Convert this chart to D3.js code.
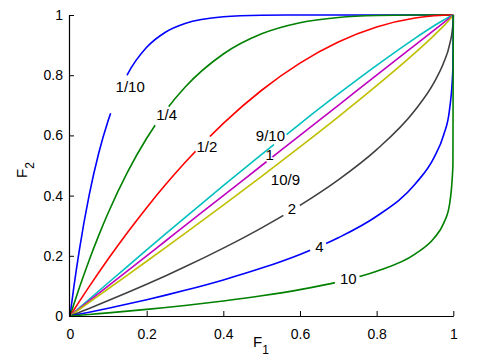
<!DOCTYPE html>
<html><head><meta charset="utf-8">
<script src="https://cdn.jsdelivr.net/npm/d3@7"></script>
<style>
body{margin:0;background:#fff}
svg{display:block}
text{font-family:"Liberation Sans",Arial,Helvetica,sans-serif;fill:#000}
</style>
</head><body>
<svg id="chart" width="500" height="360"></svg>
<script>
// ---- data ----
const F1 = [0, 0.01, 0.025, 0.05, 0.075, 0.1, 0.15, 0.2, 0.25, 0.3, 0.4, 0.5, 0.6, 0.7, 0.8, 0.9, 0.95, 0.975, 0.99, 0.999, 1];
const ratioLabels = ["1/10", "1/4", "1/2", "9/10", "1", "10/9", "2", "4", "10"];
const F2_1_10 = [0, 0.0956, 0.2237, 0.4013, 0.5414, 0.6513, 0.8031, 0.8926, 0.9437, 0.9718, 0.9940, 0.9990, 0.9999, 1, 1, 1, 1, 1, 1, 1, 1];
const F2_1_4  = [0, 0.0394, 0.0963, 0.1855, 0.2679, 0.3439, 0.4780, 0.5904, 0.6836, 0.7599, 0.8704, 0.9375, 0.9744, 0.9919, 0.9984, 0.9999, 1, 1, 1, 1, 1];
const F2_1_2  = [0, 0.0199, 0.0494, 0.0975, 0.1444, 0.19, 0.2775, 0.36, 0.4375, 0.51, 0.64, 0.75, 0.84, 0.91, 0.96, 0.99, 0.9975, 0.9994, 0.9999, 1, 1];
const F2_9_10 = [0, 0.0111, 0.0277, 0.0554, 0.0830, 0.1105, 0.1652, 0.2196, 0.2736, 0.3272, 0.4331, 0.5371, 0.6387, 0.7376, 0.8327, 0.9226, 0.9642, 0.9834, 0.9940, 0.9995, 1];
const F2_1    = [0, 0.01, 0.025, 0.05, 0.075, 0.1, 0.15, 0.2, 0.25, 0.3, 0.4, 0.5, 0.6, 0.7, 0.8, 0.9, 0.95, 0.975, 0.99, 0.999, 1];
const F2_10_9 = [0, 0.0090, 0.0225, 0.0451, 0.0678, 0.0905, 0.1361, 0.1819, 0.2281, 0.2746, 0.3686, 0.4641, 0.5616, 0.6616, 0.7651, 0.8741, 0.9325, 0.9638, 0.9842, 0.9980, 1];
const F2_2    = [0, 0.0050, 0.0126, 0.0253, 0.0382, 0.0513, 0.0780, 0.1056, 0.1340, 0.1633, 0.2254, 0.2929, 0.3675, 0.4523, 0.5528, 0.6838, 0.7764, 0.8419, 0.9, 0.9684, 1];
const F2_4    = [0, 0.0025, 0.0063, 0.0127, 0.0193, 0.0260, 0.0398, 0.0543, 0.0694, 0.0853, 0.1199, 0.1591, 0.2047, 0.2599, 0.3313, 0.4377, 0.5271, 0.6024, 0.6838, 0.8222, 1];
const F2_10   = [0, 0.0010, 0.0025, 0.0051, 0.0078, 0.0105, 0.0161, 0.0221, 0.0284, 0.0350, 0.0498, 0.0670, 0.0876, 0.1134, 0.1487, 0.2057, 0.2589, 0.3085, 0.3690, 0.4988, 1];
const seriesValues = [F2_1_10, F2_1_4, F2_1_2, F2_9_10, F2_1, F2_10_9, F2_2, F2_4, F2_10];
const tickValues = [0, 0.2, 0.4, 0.6, 0.8, 1];
const tickLabels = ["0", "0.2", "0.4", "0.6", "0.8", "1"];

// ---- styling / layout ----
const colors = ["#0000ff", "#008000", "#ff0000", "#00bfbf", "#bf00bf", "#bfbf00", "#404040", "#0000ff", "#008000"];
// label centres (data coords) and line gaps (F1 range) per curve
const labelPos = [[0.157, 0.762], [0.252, 0.668], [0.357, 0.562], [0.523, 0.598], [0.521, 0.536], [0.562, 0.453], [0.579, 0.356], [0.651, 0.231], [0.726, 0.123]];
const labelGap = [[0.107, 0.149], [0.223, 0.258], [0.328, 0.366], [0.532, 0.565], [0.513, 0.528], null, [0.556, 0.600], [0.626, 0.668], [0.691, 0.755]];

const svg = d3.select("#chart");
const x = d3.scaleLinear().domain([0, 1]).range([70, 453.3]);
const y = d3.scaleLinear().domain([0, 1]).range([316, 15]);

const line = d3.line().x(d => x(d[0])).y(d => y(d[1])).curve(d3.curveMonotoneX);
const defs = svg.append("defs");

function valueAt(vals, f) {
  for (let i = 1; i < F1.length; i++) {
    if (f <= F1[i]) {
      const t = (f - F1[i - 1]) / (F1[i] - F1[i - 1]);
      return vals[i - 1] + t * (vals[i] - vals[i - 1]);
    }
  }
  return vals[vals.length - 1];
}

seriesValues.forEach((vals, i) => {
  const pts = F1.map((f, j) => [f, vals[j]]);
  const path = svg.append("path")
    .attr("d", line(pts))
    .attr("fill", "none")
    .attr("stroke", colors[i])
    .attr("stroke-width", 1.6);
  const g = labelGap[i];
  if (g) {
    const p0 = [x(g[0]), y(valueAt(vals, g[0]))];
    const p1 = [x(g[1]), y(valueAt(vals, g[1]))];
    const cx = (p0[0] + p1[0]) / 2, cy = (p0[1] + p1[1]) / 2;
    const r = Math.hypot(p1[0] - p0[0], p1[1] - p0[1]) / 2;
    const m = defs.append("mask").attr("id", "gap" + i)
      .attr("maskUnits", "userSpaceOnUse").attr("x", 0).attr("y", 0).attr("width", 500).attr("height", 360);
    m.append("rect").attr("width", 500).attr("height", 360).attr("fill", "#fff");
    m.append("circle").attr("cx", cx).attr("cy", cy).attr("r", r).attr("fill", "#000");
    path.attr("mask", "url(#gap" + i + ")");
  }
  svg.append("text")
    .attr("x", x(labelPos[i][0]))
    .attr("y", y(labelPos[i][1]))
    .attr("dy", "0.36em")
    .attr("text-anchor", "middle")
    .style("font-size", "15px")
    .text(ratioLabels[i]);
});

// axes (left and bottom only, ticks pointing inward)
const xAxis = d3.axisBottom(x).tickValues(tickValues).tickFormat((d, i) => tickLabels[i]).tickSizeInner(-5).tickSizeOuter(0).tickPadding(10);
const yAxis = d3.axisLeft(y).tickValues(tickValues).tickFormat((d, i) => tickLabels[i]).tickSizeInner(-5).tickSizeOuter(0).tickPadding(10);
const gx = svg.append("g").attr("transform", "translate(0,316)").call(xAxis);
const gy = svg.append("g").attr("transform", "translate(69,0)").call(yAxis);
[gx, gy].forEach(g => {
  g.select(".domain").attr("stroke", "#000").attr("stroke-width", 1.2);
  g.selectAll(".tick line").attr("stroke", "#000").attr("stroke-width", 1);
  g.selectAll(".tick text").style("font-size", "14px").attr("fill", "#000")
    .style("font-family", "'Liberation Sans',Arial,Helvetica,sans-serif");
});
gx.selectAll(".tick text").attr("dy", "0.9em");
gy.selectAll(".tick text").attr("dx", "4");

// axis titles
const xt = svg.append("text").attr("transform", "translate(261,347)").attr("text-anchor", "middle").style("font-size", "15px");
xt.append("tspan").text("F");
xt.append("tspan").attr("dy", 7).style("font-size", "12px").text("1");
const yt = svg.append("text").attr("transform", "translate(27,170)rotate(-90)").attr("text-anchor", "middle").style("font-size", "15px");
yt.append("tspan").text("F");
yt.append("tspan").attr("dy", 7).style("font-size", "12px").text("2");
</script>
</body></html>
